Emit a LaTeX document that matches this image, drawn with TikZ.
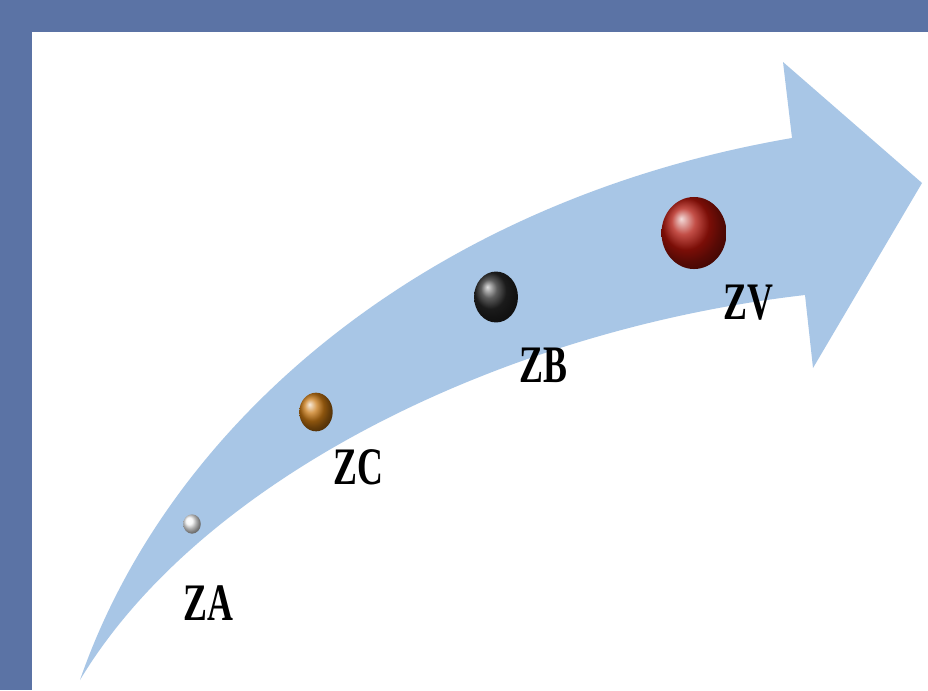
\documentclass[tikz,border=0pt]{standalone}
\usepackage{fontspec}
\setmainfont{Liberation Serif}
\usetikzlibrary{shapes.geometric}
\definecolor{frameblue}{RGB}{91,115,165}
\definecolor{arrowblue}{RGB}{168,198,230}
\definecolor{copper}{RGB}{200,120,20}
\definecolor{ruby}{RGB}{175,20,10}
\newcommand{\lbltext}[1]{\scalebox{0.68}[1]{#1}}

\begin{document}
\begin{tikzpicture}[x=0.02cm,y=-0.02cm,
    ball/.style={ellipse,inner sep=0pt,shading=ball},
    lbl/.style={font=\fontsize{30}{30}\selectfont\bfseries,inner sep=0pt}]
            % Frame and page
            \fill[frameblue] (0,0) rectangle (928,690);
            \fill[white] (32,32) rectangle (928,690);

            % Curved arrow
            \fill[arrowblue] (80,680) .. controls (170,420) and (430,200) .. (792,138)
                -- (783,62) -- (922,183) -- (813,368) -- (805,295)
                .. controls (500,330) and (200,480) .. cycle;

            % Balls along the arrow (sizes in pt, 1px = 0.567pt)
            \node[ball,ball color=white!92!gray,minimum width=10pt,minimum height=11pt] (ballA) at (192,524) {};
            \node[ball,ball color=copper,minimum width=19pt,minimum height=22pt] (ballC) at (316,412) {};
            \node[ball,ball color=black!85,minimum width=25pt,minimum height=29pt] (ballB) at (496,297) {};
            \node[ball,ball color=ruby,minimum width=37pt,minimum height=41pt] (ballV) at (694,233) {};

            % Labels
            \node[lbl] (labA) at (208,603) {\lbltext{ZA}};
            \node[lbl] (labC) at (358,467) {\lbltext{ZC}};
            \node[lbl] (labB) at (543,365) {\lbltext{ZB}};
            \node[lbl] (labV) at (748,303) {\lbltext{ZV}};
        \end{tikzpicture}
\end{document}
